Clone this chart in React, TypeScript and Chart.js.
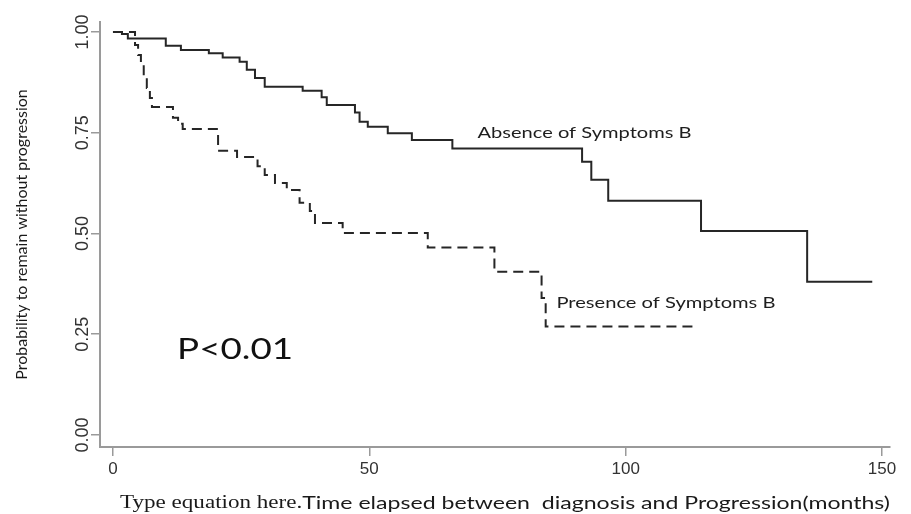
import { useEffect, useRef } from "react";
import { Chart, registerables } from "chart.js";

Chart.register(...registerables);

// Kaplan-Meier steps (time in months, survival after the step)
const absenceTimes = [0, 1.75, 2.9, 10.3, 13.25, 18.7, 21.4, 24.7, 26.1, 27.7, 29.6, 37.0, 40.7, 41.7, 47.2, 48.1, 49.7, 53.6, 58.3, 66.2, 91.5, 93.3, 96.6, 114.7, 135.4, 148.1];
const absenceSurvival = [1, 0.995, 0.984, 0.966, 0.955, 0.947, 0.937, 0.926, 0.906, 0.886, 0.864, 0.854, 0.838, 0.819, 0.8, 0.777, 0.765, 0.749, 0.732, 0.711, 0.678, 0.633, 0.581, 0.506, 0.38, 0.38];

const presenceTimes = [0, 4.3, 4.9, 5.45, 6.0, 6.6, 7.2, 7.6, 11.7, 12.7, 13.6, 20.5, 24.2, 28.2, 29.6, 31.6, 33.9, 36.4, 38.4, 39.4, 44.8, 61.4, 74.4, 83.6, 84.4, 114.0];
const presenceSurvival = [1, 0.968, 0.943, 0.918, 0.886, 0.861, 0.836, 0.814, 0.787, 0.772, 0.759, 0.705, 0.69, 0.667, 0.645, 0.625, 0.608, 0.576, 0.556, 0.526, 0.501, 0.465, 0.405, 0.34, 0.269, 0.269];

const xTickValues = [0, 50, 100, 150];
const yTickValues = [0, 0.25, 0.5, 0.75, 1];

const yTitle = "Probability to remain without progression";
const xTitlePrefix = "Type equation here.";
const xTitleMain = "Time elapsed between  diagnosis and Progression(months)";

const absenceLabel = "Absence of Symptoms B";
const presenceLabel = "Presence of Symptoms B";
const pValueLabel = "P<0.01";

// label anchor points in data coordinates
const absenceLabelAt = [71.1, 0.749];
const presenceLabelAt = [86.5, 0.327];
const pValueLabelAt = [12.5, 0.211];

function drawFitted(
  ctx: CanvasRenderingContext2D,
  text: string,
  px: number,
  py: number,
  font: string,
  width: number,
  color: string
) {
  ctx.save();
  ctx.font = font;
  const w = ctx.measureText(text).width;
  ctx.translate(px, py);
  ctx.scale(width / w, 1);
  ctx.textAlign = "left";
  ctx.textBaseline = "middle";
  ctx.fillStyle = color;
  ctx.fillText(text, 0, 0);
  ctx.restore();
}

const textPlugin = {
  id: "kmText",
  afterDraw(chart: any) {
    const ctx: CanvasRenderingContext2D = chart.ctx;
    const xs = chart.scales.x;
    const ys = chart.scales.y;
    drawFitted(ctx, absenceLabel, xs.getPixelForValue(absenceLabelAt[0]), ys.getPixelForValue(absenceLabelAt[1]), "16px Lato", 214, "#1e1e1e");
    drawFitted(ctx, presenceLabel, xs.getPixelForValue(presenceLabelAt[0]), ys.getPixelForValue(presenceLabelAt[1]), "16px Lato", 219, "#1e1e1e");
    drawFitted(ctx, pValueLabel, xs.getPixelForValue(pValueLabelAt[0]), ys.getPixelForValue(pValueLabelAt[1]), "28px Lato", 116, "#111");

    // x axis title: two typefaces, as in the original
    ctx.save();
    const f1 = "18px 'Liberation Serif'";
    const f2 = "18px Lato";
    ctx.font = f1;
    const w1 = ctx.measureText(xTitlePrefix).width;
    ctx.font = f2;
    const w2 = ctx.measureText(xTitleMain).width;
    const total = 770;
    const sx = total / (w1 + w2);
    const startX = 120;
    const ty = 503;
    ctx.translate(startX, ty);
    ctx.scale(sx, 1);
    ctx.textAlign = "left";
    ctx.textBaseline = "middle";
    ctx.fillStyle = "#1a1a1a";
    ctx.font = f1;
    ctx.fillText(xTitlePrefix, 0, 0);
    ctx.font = f2;
    ctx.fillText(xTitleMain, w1, 0);
    ctx.restore();
  },
};

export default function App() {
  const canvasRef = useRef<HTMLCanvasElement | null>(null);

  useEffect(() => {
    if (!canvasRef.current) return;
    const absenceData = absenceTimes.map((t, i) => ({ x: t, y: absenceSurvival[i] }));
    const presenceData = presenceTimes.map((t, i) => ({ x: t, y: presenceSurvival[i] }));

    const chart = new Chart(canvasRef.current, {
      type: "line",
      data: {
        datasets: [
          {
            label: absenceLabel,
            data: absenceData,
            stepped: "before",
            borderColor: "#262626",
            borderWidth: 2,
            pointRadius: 0,
            fill: false,
          },
          {
            label: presenceLabel,
            data: presenceData,
            stepped: "before",
            borderColor: "#262626",
            borderWidth: 2,
            borderDash: [10, 6],
            pointRadius: 0,
            fill: false,
          },
        ],
      },
      options: {
        animation: false,
        responsive: true,
        maintainAspectRatio: false,
        layout: { padding: { top: 22, right: 21, left: 0, bottom: 0 } },
        plugins: {
          legend: { display: false },
          tooltip: { enabled: false },
          title: { display: false },
        },
        scales: {
          x: {
            type: "linear",
            min: -2.53,
            max: 151.56,
            afterBuildTicks: (scale: any) => {
              scale.ticks = xTickValues.map((v) => ({ value: v }));
            },
            afterFit: (scale: any) => {
              scale.height = 67;
            },
            grid: {
              drawOnChartArea: false,
              drawTicks: true,
              tickLength: 9,
              color: "#9a9a9a",
              lineWidth: 1.5,
            },
            border: { display: true, color: "#9a9a9a", width: 2 },
            ticks: {
              padding: 3,
              maxRotation: 0,
              autoSkip: false,
              color: "#333",
              font: { family: "'Liberation Sans'", size: 17 },
              callback: (v: any) => String(v),
            },
          },
          y: {
            type: "linear",
            min: -0.03,
            max: 1.0248,
            afterBuildTicks: (scale: any) => {
              scale.ticks = yTickValues.map((v) => ({ value: v }));
            },
            afterFit: (scale: any) => {
              scale.width = 100;
            },
            grid: {
              drawOnChartArea: false,
              drawTicks: true,
              tickLength: 9,
              color: "#9a9a9a",
              lineWidth: 1.5,
            },
            border: { display: true, color: "#9a9a9a", width: 2 },
            ticks: {
              minRotation: 90,
              maxRotation: 90,
              crossAlign: "center",
              padding: -10,
              autoSkip: false,
              color: "#333",
              font: { family: "'Liberation Sans'", size: 18 },
              callback: (v: any) => Number(v).toFixed(2),
            },
            title: {
              display: true,
              text: yTitle,
              color: "#1a1a1a",
              font: { family: "Lato", size: 16 },
              padding: { top: 12, bottom: 0 },
            },
          },
        },
      },
      plugins: [textPlugin],
    });
    return () => chart.destroy();
  }, []);

  return (
    <div style={{ position: "fixed", left: 0, top: 0, width: 911, height: 514, background: "#fff" }}>
      <canvas ref={canvasRef} />
    </div>
  );
}
